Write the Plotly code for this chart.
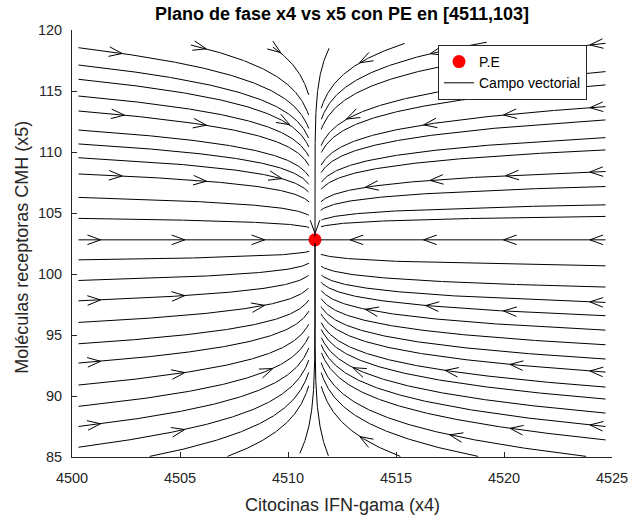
import numpy as np
import plotly.graph_objects as go

# Equilibrium point (x4, x5) and linear rates of the vector field
PE_X4 = 4511.25
PE_X5 = 102.8
RATE_X4 = 1.0
RATE_X5 = 0.15

# Axis ranges and ticks
X_RANGE = [4500, 4525]
Y_RANGE = [85, 120]
X_TICKS = [4500, 4505, 4510, 4515, 4520, 4525]
Y_TICKS = [85, 90, 95, 100, 105, 110, 115, 120]

# Streamlines entering from the left edge
LEFT_X0 = 4500.3
LEFT_Y0 = [118.55, 117.13, 115.96, 114.59, 113.36, 111.8, 110.66, 109.53, 108.2,
           106.28, 104.56, 102.8, 101.16, 99.47, 97.8, 96.03, 94.28, 92.7, 90.9,
           89.15, 87.5, 85.8]
LEFT_ARROWS = [[4502.0], [], [4509.8], [], [4502.1, 4505.9], [], [], [4509.4],
               [4502.0, 4505.9], [], [], [4501.0, 4504.9, 4508.6], [], [],
               [4501.0, 4504.9], [4508.6], [], [4501.0], [4504.9], [4509.0],
               [4501.0], [4504.9]]

# Streamlines entering from the right edge
RIGHT_X0 = 4524.7
RIGHT_Y0 = [118.91, 116.59, 115.5, 113.72, 112.63, 111.18, 110.17, 108.4, 107.17,
            105.67, 104.72, 102.8, 100.67, 98.93, 97.67, 96.58, 95.4, 94.2, 93.03,
            91.96, 90.73, 89.75, 88.6, 87.5, 86.4]
RIGHT_ARROWS = [[4524.3], [4513.0], [], [4524.3, 4520.3, 4516.6], [], [], [],
                [4524.3, 4520.4, 4516.9, 4513.9], [], [], [],
                [4524.3, 4520.3, 4516.6, 4513.2], [], [], [4524.3],
                [4520.3, 4516.7], [4513.9], [], [], [4524.3, 4520.6], [4517.6],
                [], [4513.3], [4524.3], [4520.6]]

# Streamlines entering from the top edge
TOP_X0 = [4505.5, 4509.3, 4515.4, 4519.2]
TOP_Y0 = [118.77, 118.6, 118.9, 119.0]
TOP_ARROWS = [[4505.9], [4509.4], [4513.6], [4516.9]]

# Streamlines entering from the bottom edge
BOTTOM_X0 = [4503.6, 4507.2, 4515.2, 4518.8, 4523.8]
BOTTOM_Y0 = [85.05, 85.05, 85.05, 85.05, 85.05]
BOTTOM_ARROWS = [[], [], [4513.6], [], [4517.8]]

# Streamlines that run along the slow direction into the equilibrium
CENTER_X0 = [4511.9, 4510.55, 4511.87]
CENTER_Y0 = [118.5, 85.3, 85.1]

# Pixel scale of the plotting area (used for even step length and arrow shape)
PLOT_W, PLOT_H = 540, 427
SX = PLOT_W / (X_RANGE[1] - X_RANGE[0])
SY = PLOT_H / (Y_RANGE[1] - Y_RANGE[0])


def field(u, v):
    """Linear field around the equilibrium, in offset coordinates."""
    return -RATE_X4 * u, -RATE_X5 * v


def unit_dir(u, v):
    du, dv = field(u, v)
    px, py = du * SX, dv * SY
    n = np.hypot(px, py)
    if n == 0:
        return 0.0, 0.0
    return px / n, py / n


def integrate(x0, y0, stop_du=0.3, stop_dv=None, h=1.0, max_steps=6000):
    u, v = x0 - PE_X4, y0 - PE_X5
    us, vs = [u], [v]
    for _ in range(max_steps):
        d1 = unit_dir(u, v)
        um, vm = u + 0.5 * h * d1[0] / SX, v + 0.5 * h * d1[1] / SY
        d2 = unit_dir(um, vm)
        if d2 == (0.0, 0.0):
            break
        u, v = u + h * d2[0] / SX, v + h * d2[1] / SY
        x, y = u + PE_X4, v + PE_X5
        if not (X_RANGE[0] <= x <= X_RANGE[1] and Y_RANGE[0] <= y <= Y_RANGE[1]):
            break
        us.append(u)
        vs.append(v)
        if stop_dv is None and abs(u) < stop_du:
            break
        if stop_dv is not None and abs(v) < stop_dv:
            break
    return np.array(us) + PE_X4, np.array(vs) + PE_X5


def chevron_at(xs, ys, pos, along="x", L=14.0, half_angle=20.0):
    """Arrowhead centred on the streamline where it reaches the given x (or y)."""
    key = xs if along == "x" else ys
    idx = None
    for i in range(len(key) - 1):
        a, b = key[i], key[i + 1]
        if (a - pos) * (b - pos) <= 0 and a != b:
            idx = i
            break
    if idx is None:
        return None
    t = (pos - key[idx]) / (key[idx + 1] - key[idx])
    cx = xs[idx] + t * (xs[idx + 1] - xs[idx])
    cy = ys[idx] + t * (ys[idx + 1] - ys[idx])
    dxp = (xs[idx + 1] - xs[idx]) * SX
    dyp = (ys[idx + 1] - ys[idx]) * SY
    n = np.hypot(dxp, dyp)
    dxp, dyp = dxp / n, dyp / n
    # tip half a length ahead of the centre
    tipx, tipy = cx * SX + 0.5 * L * dxp, cy * SY + 0.5 * L * dyp
    out_x, out_y = [], []
    for s in (1, -1):
        a = np.radians(half_angle) * s
        bx = dxp * np.cos(a) - dyp * np.sin(a)
        by = dxp * np.sin(a) + dyp * np.cos(a)
        out_x.append((tipx - L * bx) / SX)
        out_y.append((tipy - L * by) / SY)
    return [out_x[0], tipx / SX, out_x[1], None], [out_y[0], tipy / SY, out_y[1], None]


line_x, line_y = [], []
arrow_x, arrow_y = [], []


def add_line(xs, ys, stations, along="x"):
    line_x.extend(list(xs) + [None])
    line_y.extend(list(ys) + [None])
    for s in stations:
        c = chevron_at(xs, ys, s, along)
        if c is not None:
            arrow_x.extend(c[0])
            arrow_y.extend(c[1])


for y0, st in zip(LEFT_Y0, LEFT_ARROWS):
    xs, ys = integrate(LEFT_X0, y0)
    add_line(xs, ys, st)

for y0, st in zip(RIGHT_Y0, RIGHT_ARROWS):
    xs, ys = integrate(RIGHT_X0, y0)
    add_line(xs, ys, st)

for x0, y0, st in zip(TOP_X0, TOP_Y0, TOP_ARROWS):
    xs, ys = integrate(x0, y0)
    add_line(xs, ys, st)

for x0, y0, st in zip(BOTTOM_X0, BOTTOM_Y0, BOTTOM_ARROWS):
    xs, ys = integrate(x0, y0)
    add_line(xs, ys, st)

for k, (x0, y0) in enumerate(zip(CENTER_X0, CENTER_Y0)):
    xs, ys = integrate(x0, y0, stop_dv=0.35)
    add_line(xs, ys, [103.9] if k == 0 else [], along="y")

fig = go.Figure()
fig.add_trace(go.Scatter(
    x=[PE_X4], y=[PE_X5], mode="markers", name="P.E",
    marker=dict(color="#ff0000", size=13, line=dict(width=0)),
))
fig.add_trace(go.Scatter(
    x=line_x, y=line_y, mode="lines", name="Campo vectorial",
    line=dict(color="black", width=1), connectgaps=False,
))
fig.add_trace(go.Scatter(
    x=arrow_x, y=arrow_y, mode="lines", showlegend=False,
    line=dict(color="black", width=1), connectgaps=False,
))

AX_COLOR = "#262626"
FONT = "Liberation Sans, Arial, Helvetica, sans-serif"

fig.update_layout(
    width=630, height=515,
    margin=dict(l=72, r=18, t=30, b=58, autoexpand=False),
    paper_bgcolor="white", plot_bgcolor="white",
    font=dict(family=FONT, color=AX_COLOR, size=14.5),
    title=dict(
        text="<b>Plano de fase x4 vs x5 con PE en [4511,103]</b>",
        x=0.5, xref="paper", xanchor="center",
        y=1 - 14 / 515, yref="container", yanchor="middle",
        font=dict(size=18, color="black", family=FONT),
    ),
    showlegend=True,
    legend=dict(
        x=(438 - 72) / 540, xanchor="left", y=(457 - 45) / 427, yanchor="top",
        bgcolor="white", bordercolor=AX_COLOR, borderwidth=1,
        font=dict(size=14, color="black", family=FONT),
        tracegroupgap=0,
    ),
    xaxis=dict(
        range=X_RANGE, tickvals=X_TICKS, ticks="inside", ticklen=5,
        tickcolor=AX_COLOR, showline=True, linecolor=AX_COLOR, linewidth=1,
        mirror=False, showgrid=False, zeroline=False, ticklabelstandoff=8,
        tickfont=dict(size=14.5, color=AX_COLOR),
    ),
    yaxis=dict(
        range=Y_RANGE, tickvals=Y_TICKS, ticks="inside", ticklen=5,
        tickcolor=AX_COLOR, showline=True, linecolor=AX_COLOR, linewidth=1,
        mirror=False, showgrid=False, zeroline=False, ticklabelstandoff=6,
        tickfont=dict(size=14.5, color=AX_COLOR),
    ),
    annotations=[
        dict(text="Citocinas IFN-gama (x4)", xref="paper", yref="paper",
             x=0.5, y=-(505 - 457) / 427, xanchor="center", yanchor="middle",
             showarrow=False, font=dict(size=18, color=AX_COLOR, family=FONT)),
        dict(text="Moléculas receptoras CMH (x5)", xref="paper", yref="paper",
             x=-(72 - 22) / 540, y=0.49, xanchor="center", yanchor="middle",
             textangle=-90, showarrow=False,
             font=dict(size=18, color=AX_COLOR, family=FONT)),
    ],
)

fig.write_html("out.html")
